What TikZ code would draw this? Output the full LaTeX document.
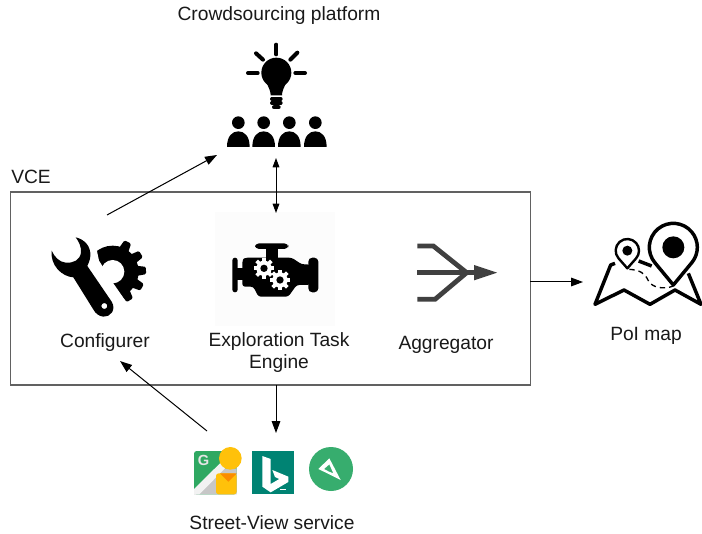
\documentclass[tikz,border=0pt]{standalone}
\usepackage{fontspec}
\setmainfont{Liberation Sans}
\usetikzlibrary{arrows.meta}
\definecolor{svgreen}{HTML}{2FA862}
\definecolor{svyellow}{HTML}{FFC10A}
\definecolor{svorange}{HTML}{FB8C00}
\definecolor{bingteal}{HTML}{008373}
\definecolor{mapgreen}{HTML}{37AD6E}
\tikzset{
  lbl/.style={inner sep=0pt,align=center,font=\fontsize{14.4pt}{15.9pt}\selectfont,text=black!90},
  conn/.style={draw=black,line width=0.75pt,-{Triangle[length=9pt,width=6.5pt]}},
  dconn/.style={draw=black,line width=0.75pt,{Triangle[length=7pt,width=5pt]}-{Triangle[length=7pt,width=5pt]}},
  frame/.style={draw=black!62,line width=0.9pt,minimum width=390pt,minimum height=144.75pt,inner sep=0pt},
  zoomed/.style 2 args={shift={(#1,#2)},scale=0.33333},
  ray/.style={draw=black,line width=3pt,line cap=round},
  pinline/.style={draw=black,line join=round},
}
\begin{document}
\begin{tikzpicture}[x=0.75pt,y=-0.75pt]
\useasboundingbox (0,0) rectangle (702,534);
\fill[white] (0,0) rectangle (702,534);
% engine background
\fill[black!1] (215,212) rectangle (335,326);
% frame
\node[frame] (vce) at (270.25,288.5) {};
% labels
\node[lbl,anchor=base] (tcrowd) at (279,21) {Crowdsourcing platform};
\node[lbl,anchor=base] (tvce) at (31,184) {VCE};
\node[lbl,anchor=base] (tconf) at (105,347) {Configurer};
\node[lbl] (tengine) at (279,352.5) {Exploration Task\\Engine};
\node[lbl,anchor=base] (tagg) at (446,349) {Aggregator};
\node[lbl,anchor=base] (tpoi) at (646,340) {PoI map};
\node[lbl,anchor=base] (tsv) at (272,529) {Street-View service};
% --- crowd icon
\begin{scope}[zoomed={200}{30}]
  \fill (229,128) circle (45);
  \fill (195,150) -- (263,150) .. controls (250,175) and (246,185) .. (246,196) -- (212,196) .. controls (212,185) and (208,175) .. (195,150) -- cycle;
  \foreach \yy in {207,219}{\draw[line width=2.4pt,line cap=round] (215,\yy) -- (243,\yy);}
  \draw[line width=3pt,line cap=round] (222,232) -- (236,232);
  \draw[ray] (229,44) -- (229,73);
  \draw[ray] (168,70) -- (189,89);
  \draw[ray] (292,68) -- (271,89);
  \draw[ray] (144,129) -- (173,129);
  \draw[ray] (286,129) -- (315,129);
  \foreach \xx in {115,191,268,346}{
    \fill (\xx,278) circle (19);
    \fill (\xx-34,351) .. controls (\xx-34,318) and (\xx-18,304) .. (\xx,304) .. controls (\xx+18,304) and (\xx+34,318) .. (\xx+34,351) -- cycle;
  }
\end{scope}
% --- configurer icon
\begin{scope}[zoomed={45}{230}]
  \fill (203,125) circle (78);
  \foreach \a in {-118,-89,-59,-28,2,32,63}{
    \fill[rounded corners=1pt,rotate around={\a:(203,125)}] (203+60,108) -- (203+100,114) -- (203+100,136) -- (203+60,142) -- cycle;
  }
  \fill[white] (203,125) circle (35);
  \fill[white] (150,0) -- (150,35) -- (162,92) -- (205,160) -- (250,225) -- (230,290) -- (0,290) -- (0,0) -- cycle;
  \fill[even odd rule] (92,22) .. controls (118,28) and (138,48) .. (136,78) .. controls (135,92) and (130,100) .. (127,108)
     -- (200,215) .. controls (215,240) and (195,262) .. (175,260) .. controls (160,258) and (152,250) .. (146,240)
     -- (85,142) .. controls (50,140) and (15,105) .. (20,62) .. controls (28,80) and (42,96) .. (62,98) .. controls (85,100) and (105,90) .. (108,68) .. controls (109,50) and (102,35) .. (92,22) -- cycle
     (178,228) circle (9);
\end{scope}
% --- engine icon
\begin{scope}[zoomed={225}{235}]
  \fill[rounded corners=2pt] (52,75) -- (60,68) -- (200,68) -- (230,88) -- (255,88) -- (255,150) -- (215,150) -- (190,185) -- (100,185) -- (85,155) -- (52,155) -- cycle;
  \fill[rounded corners=3pt] (250,68) rectangle (280,172);
  \fill[rounded corners=2pt] (22,68) rectangle (38,172);
  \fill (36,100) rectangle (54,135);
  \fill[rounded corners=3pt] (90,25) rectangle (190,42);
  \fill (122,40) rectangle (160,70);
  \foreach \cx/\cy in {117/100,165/135}{
    \fill[white] (\cx,\cy) circle (23);
    \foreach \a in {0,45,...,315}{\fill[white,rotate around={\a:(\cx,\cy)}] (\cx+18,\cy-5.5) rectangle (\cx+31,\cy+5.5);}
    \fill (\cx,\cy) circle (11);
  }
\end{scope}
% --- aggregator icon
\begin{scope}[zoomed={400}{210}]
  \draw[black!75,line width=3.6pt,line join=miter] (52,108) -- (100,108) -- (200,188);
  \draw[black!75,line width=3.6pt,line join=miter] (52,268) -- (105,268) -- (200,188);
  \draw[black!75,line width=3.6pt] (52,188) -- (225,188);
  \fill[black!75] (222,165) -- (291,188) -- (222,211) -- cycle;
\end{scope}
% --- PoI map icon
\begin{scope}[zoomed={400}{210}]
  \draw[pinline,line width=2.6pt] (645,160) -- (632,165) -- (585,283) -- (672,240) -- (750,283) -- (825,240) -- (903,283) -- (865,190);
  \draw[pinline,line width=2.6pt] (716,153) -- (755,168);
  \draw[line width=1pt,dash pattern=on 4pt off 3pt] (688,178) .. controls (720,180) and (735,190) .. (745,212) .. controls (755,232) and (790,240) .. (820,228);
  \draw[pinline,fill=white,line width=1.8pt] (682,175) -- (655.7,145.1) arc[start angle=138.7,end angle=401.3,radius=35] -- cycle;
  \fill (682,122) circle (15);
  \draw[pinline,fill=white,line width=2.6pt] (820,225) -- (764.5,157.9) arc[start angle=140.4,end angle=399.6,radius=72] -- cycle;
  \fill (820,112) circle (33);
\end{scope}
% --- street-view icons
\begin{scope}[zoomed={180}{435}]
  \fill[rounded corners=2pt,fill=svgreen] (42,48) rectangle (170,178);
  \fill[black!22] (42,178) -- (120,100) -- (170,100) -- (170,178) -- cycle;
  \fill[black!5] (42,162) -- (125,80) -- (140,95) -- (58,178) -- (42,178) -- cycle;
  \fill[rounded corners=2pt,fill=svyellow] (108,115) rectangle (170,178);
  \fill[svorange] (120,115) -- (170,115) -- (145,140) -- cycle;
  \fill[svyellow] (151,70) circle (34);
  \node[inner sep=0pt,text=white!90!black,font=\bfseries\fontsize{11pt}{11pt}\selectfont] (gletter) at (71,77) {G};
  \fill[fill=bingteal] (216,48) rectangle (342,176);
  \fill[white] (247,63) -- (272,72) -- (272,147) -- (298,132) -- (285,126) -- (277,105) -- (325,125) -- (325,141) -- (272,172) -- (247,155) -- cycle;
  \fill[white] (300,162) rectangle (318,164);
  \fill[fill=mapgreen] (453,102) circle (66);
\end{scope}
\begin{scope}[zoomed={300}{445}]
  \fill[white,even odd rule] (55,72) -- (88,40) -- (122,105) -- (88,88) -- cycle (72,72) -- (87,80) -- (100,85) -- (88,58) -- cycle;
\end{scope}
% anchors for connectors
\coordinate (cfgOut) at (107,215);
\coordinate (crowdInL) at (217,155);
\coordinate (crowdB) at (276,158);
\coordinate (engT) at (276,213);
\coordinate (vceOut) at (530,282);
\coordinate (mapIn) at (583,282);
\coordinate (vceDown) at (276,385);
\coordinate (svT) at (276,433);
\coordinate (svOut) at (207,431);
\coordinate (cfgIn) at (120,361);
\draw[conn] (cfgOut) -- (crowdInL);
\draw[dconn] (crowdB) -- (engT);
\draw[conn] (vceOut) -- (mapIn);
\draw[conn] (vceDown) -- (svT);
\draw[conn] (svOut) -- (cfgIn);
\end{tikzpicture}
\end{document}
